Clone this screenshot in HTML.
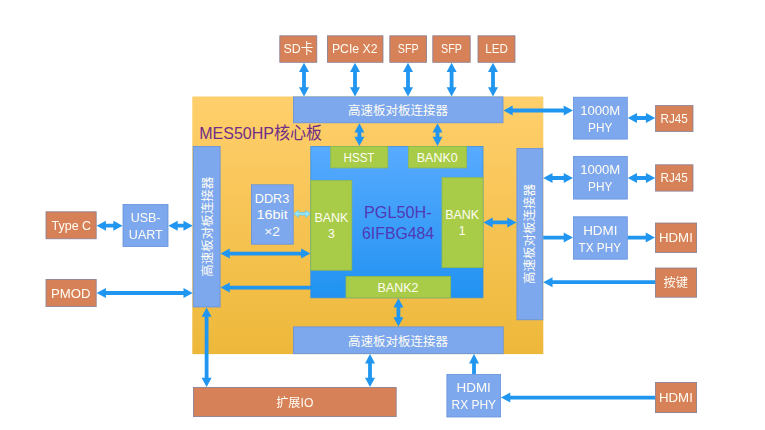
<!DOCTYPE html>
<html lang="zh-CN">
<head>
<meta charset="utf-8">
<title>MES50HP核心板</title>
<style>
html,body{margin:0;padding:0;background:#fff;}
body{width:765px;height:430px;overflow:hidden;}
svg{display:block;font-family:"Liberation Sans", "Noto Sans CJK SC", sans-serif;filter:blur(0.4px);}
</style>
</head>
<body>
<svg width="765" height="430" viewBox="0 0 765 430">
<defs>
<linearGradient id="gy" x1="0" y1="0" x2="0" y2="1"><stop offset="0" stop-color="#ffcf6c"/><stop offset="1" stop-color="#edb83a"/></linearGradient>
<linearGradient id="gb" x1="0" y1="0" x2="0" y2="1"><stop offset="0" stop-color="#58abff"/><stop offset="1" stop-color="#2192f1"/></linearGradient>
</defs>
<rect x="192.3" y="96.5" width="351.0" height="257.6" fill="url(#gy)"/>
<text x="199.2" y="138.5" font-size="17" fill="#702e88" text-anchor="start" textLength="122.9" lengthAdjust="spacingAndGlyphs">MES50HP核心板</text>
<rect x="310.79999999999995" y="146.4" width="172.2" height="151.4" fill="url(#gb)" stroke="#3b8fdd" stroke-width="0.8"/>
<polygon fill="#2196f0" points="220.5,287.6 229.8,282.6 229.8,285.7 336.3,285.7 336.3,282.6 345.6,287.6 336.3,292.6 336.3,289.5 229.8,289.5 229.8,292.6"/>
<rect x="330.7" y="146.4" width="57.1" height="21.5" fill="#a8cc48" stroke="#93b94c" stroke-width="0.8"/>
<text x="359" y="162.3" font-size="13.5" fill="#fffdf4" text-anchor="middle" textLength="30.9" lengthAdjust="spacingAndGlyphs">HSST</text>
<rect x="408.4" y="146.4" width="58.2" height="21.5" fill="#a8cc48" stroke="#93b94c" stroke-width="0.8"/>
<text x="437.2" y="162" font-size="13.5" fill="#fffdf4" text-anchor="middle" textLength="40.9" lengthAdjust="spacingAndGlyphs">BANK0</text>
<rect x="310.8" y="180.4" width="41.0" height="89.8" fill="#a8cc48" stroke="#93b94c" stroke-width="0.8"/>
<text x="331.4" y="222" font-size="13.5" fill="#fffdf4" text-anchor="middle" textLength="33.9" lengthAdjust="spacingAndGlyphs">BANK</text>
<text x="331.4" y="238" font-size="13.5" fill="#fffdf4" text-anchor="middle" textLength="6.8" lengthAdjust="spacingAndGlyphs">3</text>
<rect x="442.0" y="177.7" width="41.0" height="89.9" fill="#a8cc48" stroke="#93b94c" stroke-width="0.8"/>
<text x="462.2" y="218.6" font-size="13.5" fill="#fffdf4" text-anchor="middle" textLength="33.9" lengthAdjust="spacingAndGlyphs">BANK</text>
<text x="462.2" y="235.2" font-size="13.5" fill="#fffdf4" text-anchor="middle" textLength="6.8" lengthAdjust="spacingAndGlyphs">1</text>
<rect x="346.0" y="276.4" width="104.6" height="21.4" fill="#a8cc48" stroke="#93b94c" stroke-width="0.8"/>
<text x="398" y="291.6" font-size="13.5" fill="#fffdf4" text-anchor="middle" textLength="40.9" lengthAdjust="spacingAndGlyphs">BANK2</text>
<text x="397.8" y="218" font-size="17" fill="#5038b6" text-anchor="middle" textLength="67.5" lengthAdjust="spacingAndGlyphs">PGL50H-</text>
<text x="398.1" y="239" font-size="17" fill="#5038b6" text-anchor="middle" textLength="72.1" lengthAdjust="spacingAndGlyphs">6IFBG484</text>
<rect x="251.4" y="184.8" width="41.8" height="59.4" fill="#7ea8ee" stroke="#6491dc" stroke-width="0.8"/>
<text x="272" y="203" font-size="13.5" fill="#fffdf4" text-anchor="middle" textLength="34.5" lengthAdjust="spacingAndGlyphs">DDR3</text>
<text x="272.2" y="219.4" font-size="13.5" fill="#fffdf4" text-anchor="middle" textLength="31.3" lengthAdjust="spacingAndGlyphs">16bit</text>
<text x="272" y="236" font-size="13.5" fill="#fffdf4" text-anchor="middle" textLength="15.7" lengthAdjust="spacingAndGlyphs">×2</text>
<polygon fill="#97e6f8" stroke="#62c6ec" stroke-width="0.7" points="293.8,213.8 298.4,210.2 298.4,212.5 305.7,212.5 305.7,210.2 310.3,213.8 305.7,217.4 305.7,215.1 298.4,215.1 298.4,217.4"/>
<rect x="293.4" y="96.9" width="209.6" height="25.9" fill="#7ea8ee" stroke="#6491dc" stroke-width="0.8"/>
<text x="398.1" y="115.1" font-size="12.5" fill="#fffdf4" text-anchor="middle">高速板对板连接器</text>
<rect x="293.5" y="326.9" width="209.7" height="26.8" fill="#7ea8ee" stroke="#6491dc" stroke-width="0.8"/>
<text x="398.1" y="345.6" font-size="12.5" fill="#fffdf4" text-anchor="middle">高速板对板连接器</text>
<rect x="193.2" y="146.4" width="26.9" height="160.6" fill="#7ea8ee" stroke="#6491dc" stroke-width="0.8"/>
<text font-size="12.5" fill="#fffdf4" text-anchor="middle" transform="translate(211.5,226.8) rotate(-90)">高速板对板连接器</text>
<rect x="516.9" y="148.4" width="25.9" height="171.4" fill="#7ea8ee" stroke="#6491dc" stroke-width="0.8"/>
<text font-size="12.5" fill="#fffdf4" text-anchor="middle" transform="translate(533.6,233.9) rotate(-90)">高速板对板连接器</text>
<rect x="279.8" y="35.8" width="37.0" height="26.5" fill="#d78159" stroke="#857f96" stroke-width="0.8"/>
<text x="298.3" y="53.2" font-size="13.5" fill="#fffdf4" text-anchor="middle" textLength="29.7" lengthAdjust="spacingAndGlyphs">SD卡</text>
<rect x="327.4" y="35.8" width="55.6" height="26.5" fill="#d78159" stroke="#857f96" stroke-width="0.8"/>
<text x="354.7" y="53.2" font-size="13.5" fill="#fffdf4" text-anchor="middle" textLength="45.5" lengthAdjust="spacingAndGlyphs">PCIe X2</text>
<rect x="389.8" y="35.8" width="36.8" height="26.5" fill="#d78159" stroke="#857f96" stroke-width="0.8"/>
<text x="408.2" y="53.2" font-size="13.5" fill="#fffdf4" text-anchor="middle" textLength="20.9" lengthAdjust="spacingAndGlyphs">SFP</text>
<rect x="432.8" y="35.8" width="37.4" height="26.5" fill="#d78159" stroke="#857f96" stroke-width="0.8"/>
<text x="451.5" y="53.2" font-size="13.5" fill="#fffdf4" text-anchor="middle" textLength="20.9" lengthAdjust="spacingAndGlyphs">SFP</text>
<rect x="478.0" y="35.8" width="37.0" height="26.5" fill="#d78159" stroke="#857f96" stroke-width="0.8"/>
<text x="496.5" y="53.2" font-size="13.5" fill="#fffdf4" text-anchor="middle" textLength="22.5" lengthAdjust="spacingAndGlyphs">LED</text>
<polygon fill="#2196f0" points="304,62.7 309.0,72.0 305.9,72.0 305.9,87.2 309.0,87.2 304,96.5 299.0,87.2 302.1,87.2 302.1,72.0 299.0,72.0"/>
<polygon fill="#2196f0" points="355,62.7 360.0,72.0 356.9,72.0 356.9,87.2 360.0,87.2 355,96.5 350.0,87.2 353.1,87.2 353.1,72.0 350.0,72.0"/>
<polygon fill="#2196f0" points="408,62.7 413.0,72.0 409.9,72.0 409.9,87.2 413.0,87.2 408,96.5 403.0,87.2 406.1,87.2 406.1,72.0 403.0,72.0"/>
<polygon fill="#2196f0" points="451.6,62.7 456.6,72.0 453.5,72.0 453.5,87.2 456.6,87.2 451.6,96.5 446.6,87.2 449.7,87.2 449.7,72.0 446.6,72.0"/>
<polygon fill="#2196f0" points="493,62.7 498.0,72.0 494.9,72.0 494.9,87.2 498.0,87.2 493,96.5 488.0,87.2 491.1,87.2 491.1,72.0 488.0,72.0"/>
<rect x="573.4" y="97.2" width="53.9" height="41.9" fill="#7ea8ee" stroke="#6491dc" stroke-width="0.8"/>
<text x="600.2" y="115.2" font-size="13.5" fill="#fffdf4" text-anchor="middle" textLength="40.1" lengthAdjust="spacingAndGlyphs">1000M</text>
<text x="600.2" y="132.1" font-size="13.5" fill="#fffdf4" text-anchor="middle" textLength="24.3" lengthAdjust="spacingAndGlyphs">PHY</text>
<rect x="573.4" y="156.4" width="53.9" height="42.7" fill="#7ea8ee" stroke="#6491dc" stroke-width="0.8"/>
<text x="600.2" y="173.8" font-size="13.5" fill="#fffdf4" text-anchor="middle" textLength="40.1" lengthAdjust="spacingAndGlyphs">1000M</text>
<text x="600.2" y="190.8" font-size="13.5" fill="#fffdf4" text-anchor="middle" textLength="24.3" lengthAdjust="spacingAndGlyphs">PHY</text>
<rect x="573.4" y="216.8" width="53.9" height="42.4" fill="#7ea8ee" stroke="#6491dc" stroke-width="0.8"/>
<text x="600.3" y="234.6" font-size="13.5" fill="#fffdf4" text-anchor="middle" textLength="34.3" lengthAdjust="spacingAndGlyphs">HDMI</text>
<text x="599.8" y="251.8" font-size="13.5" fill="#fffdf4" text-anchor="middle" textLength="42.5" lengthAdjust="spacingAndGlyphs">TX PHY</text>
<rect x="655.6" y="105.6" width="37.4" height="25.8" fill="#d78159" stroke="#857f96" stroke-width="0.8"/>
<text x="674.2" y="122.8" font-size="13.5" fill="#fffdf4" text-anchor="middle" textLength="27.3" lengthAdjust="spacingAndGlyphs">RJ45</text>
<rect x="655.6" y="164.8" width="37.4" height="26.3" fill="#d78159" stroke="#857f96" stroke-width="0.8"/>
<text x="674.2" y="182" font-size="13.5" fill="#fffdf4" text-anchor="middle" textLength="27.3" lengthAdjust="spacingAndGlyphs">RJ45</text>
<rect x="655.4" y="223.0" width="41.2" height="29.4" fill="#d78159" stroke="#857f96" stroke-width="0.8"/>
<text x="675.9" y="242.3" font-size="13.5" fill="#fffdf4" text-anchor="middle" textLength="33.9" lengthAdjust="spacingAndGlyphs">HDMI</text>
<rect x="655.4" y="268.0" width="41.2" height="29.2" fill="#d78159" stroke="#857f96" stroke-width="0.8"/>
<text x="675.7" y="287" font-size="12.2" fill="#fffdf4" text-anchor="middle">按键</text>
<rect x="655.4" y="382.4" width="41.2" height="30.2" fill="#d78159" stroke="#857f96" stroke-width="0.8"/>
<text x="675.9" y="402" font-size="13.5" fill="#fffdf4" text-anchor="middle" textLength="33.9" lengthAdjust="spacingAndGlyphs">HDMI</text>
<rect x="446.9" y="374.4" width="53.7" height="42.6" fill="#7ea8ee" stroke="#6491dc" stroke-width="0.8"/>
<text x="473.7" y="392.4" font-size="13.5" fill="#fffdf4" text-anchor="middle" textLength="34.3" lengthAdjust="spacingAndGlyphs">HDMI</text>
<text x="473.8" y="408.7" font-size="13.5" fill="#fffdf4" text-anchor="middle" textLength="44.5" lengthAdjust="spacingAndGlyphs">RX PHY</text>
<polygon fill="#2196f0" points="503.4,110.5 512.7,105.5 512.7,108.6 563.7,108.6 563.7,105.5 573,110.5 563.7,115.5 563.7,112.4 512.7,112.4 512.7,115.5"/>
<polygon fill="#2196f0" points="627.7,118 637.0,113.0 637.0,116.1 645.9,116.1 645.9,113.0 655.2,118 645.9,123.0 645.9,119.9 637.0,119.9 637.0,123.0"/>
<polygon fill="#2196f0" points="543.2,178 552.5,173.0 552.5,176.1 563.7,176.1 563.7,173.0 573,178 563.7,183.0 563.7,179.9 552.5,179.9 552.5,183.0"/>
<polygon fill="#2196f0" points="627.7,178 637.0,173.0 637.0,176.1 645.9,176.1 645.9,173.0 655.2,178 645.9,183.0 645.9,179.9 637.0,179.9 637.0,183.0"/>
<polygon fill="#2196f0" points="543.2,235.7 563.7,235.7 563.7,232.6 573,237.6 563.7,242.6 563.7,239.5 543.2,239.5"/>
<polygon fill="#2196f0" points="627.7,235.7 645.7,235.7 645.7,232.6 655,237.6 645.7,242.6 645.7,239.5 627.7,239.5"/>
<polygon fill="#2196f0" points="543.2,282.2 552.5,277.2 552.5,280.3 655,280.3 655,284.1 552.5,284.1 552.5,287.2"/>
<polygon fill="#2196f0" points="501,397.6 510.3,392.6 510.3,395.7 655,395.7 655,399.5 510.3,399.5 510.3,402.6"/>
<polygon fill="#2196f0" points="474,354.1 479.0,363.4 475.9,363.4 475.9,374 472.1,374 472.1,363.4 469.0,363.4"/>
<rect x="46.0" y="211.8" width="50.2" height="27.0" fill="#d78159" stroke="#857f96" stroke-width="0.8"/>
<text x="71.3" y="229.7" font-size="13.5" fill="#fffdf4" text-anchor="middle" textLength="39.5" lengthAdjust="spacingAndGlyphs">Type C</text>
<rect x="123.0" y="204.4" width="45.0" height="42.2" fill="#7ea8ee" stroke="#6491dc" stroke-width="0.8"/>
<text x="145.6" y="222" font-size="13.5" fill="#fffdf4" text-anchor="middle" textLength="29.9" lengthAdjust="spacingAndGlyphs">USB-</text>
<text x="145.8" y="238.7" font-size="13.5" fill="#fffdf4" text-anchor="middle" textLength="33.9" lengthAdjust="spacingAndGlyphs">UART</text>
<rect x="46.0" y="279.4" width="50.2" height="27.2" fill="#d78159" stroke="#857f96" stroke-width="0.8"/>
<text x="70.8" y="297.5" font-size="13.5" fill="#fffdf4" text-anchor="middle" textLength="39.5" lengthAdjust="spacingAndGlyphs">PMOD</text>
<rect x="193.4" y="387.4" width="202.8" height="29.2" fill="#d78159" stroke="#857f96" stroke-width="0.8"/>
<text x="294.8" y="406.9" font-size="12.5" fill="#fffdf4" text-anchor="middle" textLength="37.2" lengthAdjust="spacingAndGlyphs">扩展IO</text>
<polygon fill="#2196f0" points="96.6,225.7 105.9,220.7 105.9,223.8 113.3,223.8 113.3,220.7 122.6,225.7 113.3,230.7 113.3,227.6 105.9,227.6 105.9,230.7"/>
<polygon fill="#2196f0" points="168.4,225.7 177.7,220.7 177.7,223.8 183.5,223.8 183.5,220.7 192.8,225.7 183.5,230.7 183.5,227.6 177.7,227.6 177.7,230.7"/>
<polygon fill="#2196f0" points="96.6,293 105.9,288.0 105.9,291.1 183.5,291.1 183.5,288.0 192.8,293 183.5,298.0 183.5,294.9 105.9,294.9 105.9,298.0"/>
<polygon fill="#2196f0" points="220.5,253.6 229.8,248.6 229.8,251.7 301.1,251.7 301.1,248.6 310.4,253.6 301.1,258.6 301.1,255.5 229.8,255.5 229.8,258.6"/>
<polygon fill="#2196f0" points="483.4,222.4 492.7,217.4 492.7,220.5 507.2,220.5 507.2,217.4 516.5,222.4 507.2,227.4 507.2,224.3 492.7,224.3 492.7,227.4"/>
<polygon fill="#2196f0" points="206.6,307.4 211.6,316.7 208.5,316.7 208.5,377.7 211.6,377.7 206.6,387 201.6,377.7 204.7,377.7 204.7,316.7 201.6,316.7"/>
<polygon fill="#2196f0" points="370,354.1 375.0,363.4 371.9,363.4 371.9,377.7 375.0,377.7 370,387 365.0,377.7 368.1,377.7 368.1,363.4 365.0,363.4"/>
<polygon fill="#2196f0" points="359.4,123.2 364.4,132.5 361.3,132.5 361.3,136.7 364.4,136.7 359.4,146 354.4,136.7 357.5,136.7 357.5,132.5 354.4,132.5"/>
<polygon fill="#2196f0" points="437.5,123.2 442.5,132.5 439.4,132.5 439.4,136.7 442.5,136.7 437.5,146 432.5,136.7 435.6,136.7 435.6,132.5 432.5,132.5"/>
<polygon fill="#2196f0" points="398.4,298.2 403.4,307.5 400.3,307.5 400.3,317.2 403.4,317.2 398.4,326.5 393.4,317.2 396.5,317.2 396.5,307.5 393.4,307.5"/>
</svg>
</body>
</html>
